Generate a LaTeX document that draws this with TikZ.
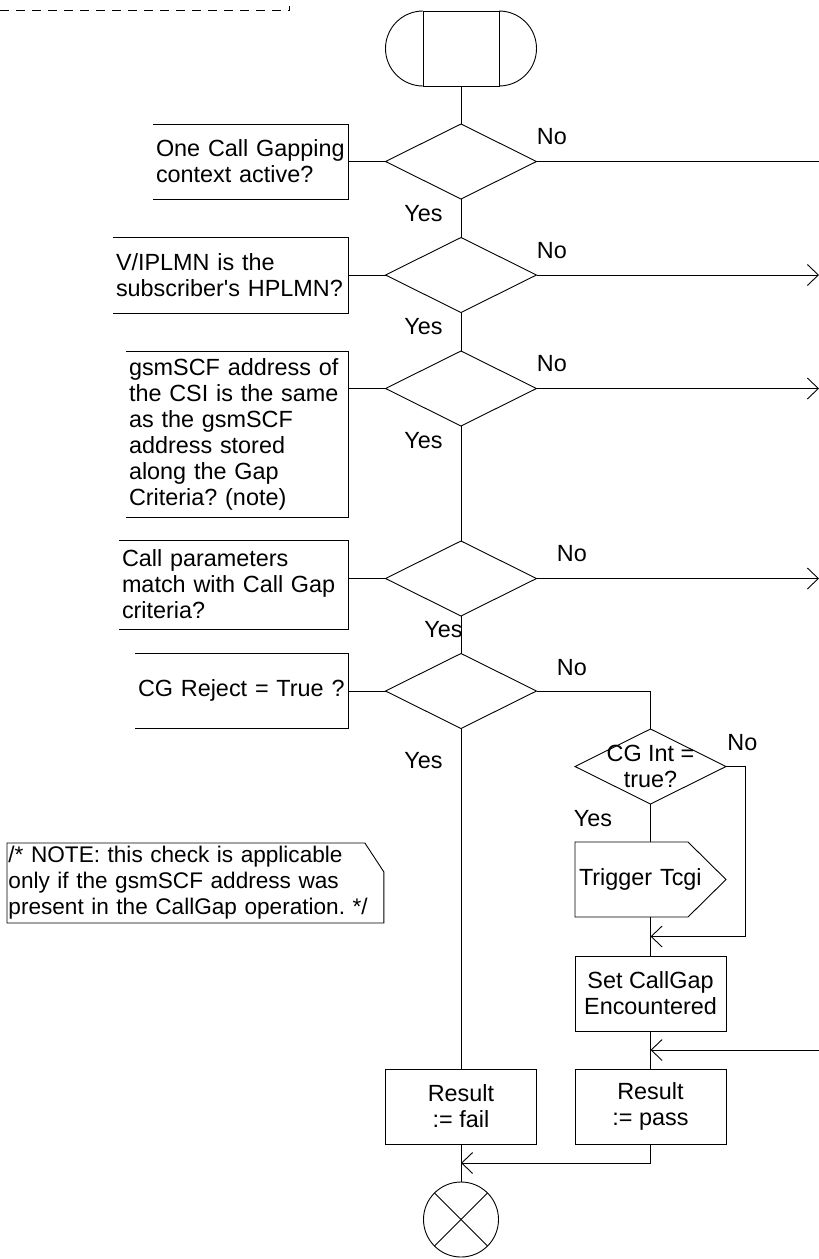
\documentclass[tikz,border=0pt]{standalone}
\usepackage{fontspec}
\setmainfont{Liberation Sans}
\frenchspacing
\usetikzlibrary{arrows.meta, positioning, shapes.geometric, calc}
\tikzset{
  flw/.style={font=\fontsize{23.4}{26}\selectfont, x=1pt, y=-1pt,
              line width=0.9pt, >={Straight Barb[length=11pt, width=21pt]}},
  dec/.style={diamond, draw, minimum width=151pt, minimum height=75pt,
              inner sep=0pt, outer sep=0pt},
  tsk/.style={draw, align=center, minimum width=151pt, minimum height=75pt,
              inner sep=2pt, outer sep=0pt},
  cmt/.style={anchor=east, align=left, inner xsep=3pt, inner ysep=0pt,
              outer sep=0pt},
  lbl/.style={inner sep=0pt, pos=0},
  ar/.style={->}
}
\begin{document}
\begin{tikzpicture}[flw]
    \useasboundingbox (0,0) rectangle (819,1259);
    \draw[dash pattern=on 9pt off 7pt] (0,10) -- (289,10) -- (289,6);

    \node[draw, minimum width=76pt, minimum height=75pt, inner sep=0pt, outer sep=0pt]
         (start) at (461,48.5) {};
    \draw (start.north west) arc[start angle=90, end angle=270, radius=37.5pt];
    \draw (start.north east) arc[start angle=90, end angle=-90, radius=37.5pt];

    \node[dec] (d1) at (461,161.5) {};
    \node[dec] (d2) at (461,275) {};
    \node[dec] (d3) at (461,388.5) {};
    \node[dec] (d4) at (461,578.5) {};
    \node[dec] (d5) at (461,691) {};

    \node[cmt, text width=189pt, minimum height=75pt] (c1) at (348,161.5)
         {One Call Gapping\\context active?};
    \node[cmt, text width=229pt, minimum height=76pt] (c2) at (348,275)
         {V/IPLMN is the\\subscriber\textquotesingle s HPLMN?};
    \node[cmt, text width=216pt, minimum height=166pt] (c3) at (348,434)
         {gsmSCF address of\\the CSI is the same\\as the gsmSCF\\address stored\\along the Gap\\Criteria? (note)};
    \node[cmt, text width=223pt, minimum height=89pt] (c4) at (348,584.5)
         {Call parameters\\match with Call Gap\\criteria?};
    \node[cmt, text width=207pt, minimum height=75pt] (c5) at (348,690.5)
         {CG Reject = True ?};
    \foreach \c in {c1,c2,c3,c4,c5} {
      \draw (\c.north west) -- (\c.north east) -- (\c.south east) -- (\c.south west);
    }
    \foreach \i in {1,...,5} {
      \draw (d\i.west) -- (d\i.west -| c\i.east);
    }

    \node[dec, label={[align=center, inner sep=0pt]center:{CG Int =\\true?}}]
         (cg) at (650.5,766.5) {};
    \node[inner sep=0pt, inner xsep=4pt, outer sep=0pt, minimum height=75pt,
          text width=143pt, align=left] (trig) at (650.5,879.5) {Trigger Tcgi};
    \draw (trig.north west) -- ([xshift=-38pt]trig.north east) -- (trig.east)
          -- ([xshift=-38pt]trig.south east) -- (trig.south west) -- cycle;
    \node[tsk] (setcg) at (650.5,993.5) {Set CallGap\\Encountered};
    \node[tsk] (pass) at (650.5,1106.5) {Result\\:= pass};
    \node[tsk] (fail) at (461,1106.5) {Result\\:= fail};
    \node[circle, draw, minimum size=75pt, inner sep=0pt, outer sep=0pt]
         (endc) at (461,1219.5) {};
    \draw (endc.north west) -- (endc.south east);
    \draw (endc.north east) -- (endc.south west);

    \node[align=left, text width=374pt, inner xsep=1pt, inner ysep=3pt,
          font=\fontsize{22.6}{26}\selectfont, anchor=north west] (note) at (7,843)
         {/* NOTE: this check is applicable\\only if the gsmSCF address was\\present in the CallGap operation. */};
    \draw (note.north west) -- ([xshift=-19pt]note.north east)
          -- ([yshift=-29pt]note.north east) -- (note.south east)
          -- (note.south west) -- cycle;

    \coordinate (rim) at (819,0);
    \coordinate (j1) at ($(trig.south)!.5!(setcg.north)$);
    \coordinate (j2) at ($(setcg.south)!.5!(pass.north)$);
    \coordinate (j3) at ($(fail.south)!.5!(endc.north)$);

    \draw (start.south) -- (d1.north);
    \draw (d1.south) -- node[lbl, anchor=base east, xshift=-18pt, yshift=-22.4pt] {Yes} (d2.north);
    \draw (d2.south) -- node[lbl, anchor=base east, xshift=-18pt, yshift=-22.4pt] {Yes} (d3.north);
    \draw (d3.south) -- node[lbl, anchor=base east, xshift=-18pt, yshift=-22.4pt] {Yes} (d4.north);
    \draw (d4.south) -- node[lbl, anchor=base east, xshift=2pt, yshift=-21.4pt] {Yes} (d5.north);
    \draw (d5.south) -- node[lbl, anchor=base east, xshift=-18pt, yshift=-40pt] {Yes} (fail.north);

    \draw (d1.east) -- node[lbl, anchor=base west, yshift=16.6pt] {No} (d1.east -| rim);
    \draw[ar] (d2.east) -- node[lbl, anchor=base west, yshift=16.6pt] {No} (d2.east -| rim);
    \draw[ar] (d3.east) -- node[lbl, anchor=base west, yshift=16.6pt] {No} (d3.east -| rim);
    \draw[ar] (d4.east) -- node[lbl, anchor=base west, xshift=20pt, yshift=16.6pt] {No} (d4.east -| rim);
    \draw (d5.east) -| node[lbl, anchor=base west, xshift=20pt, yshift=15.6pt] {No} (cg.north);

    \draw (cg.south) -- node[lbl, anchor=base east, xshift=-38pt, yshift=-22.4pt] {Yes} (trig.north);
    \draw[ar] (cg.east) -- node[lbl, anchor=base west, xshift=1pt, yshift=15.6pt] {No} ++(19,0) |- (j1);
    \draw (trig.south) -- (setcg.north);
    \draw (setcg.south) -- (pass.north);
    \draw[ar] (j2 -| rim) -- (j2);
    \draw (fail.south) -- (endc.north);
    \draw[ar] (pass.south) |- (j3);
\end{tikzpicture}
\end{document}
